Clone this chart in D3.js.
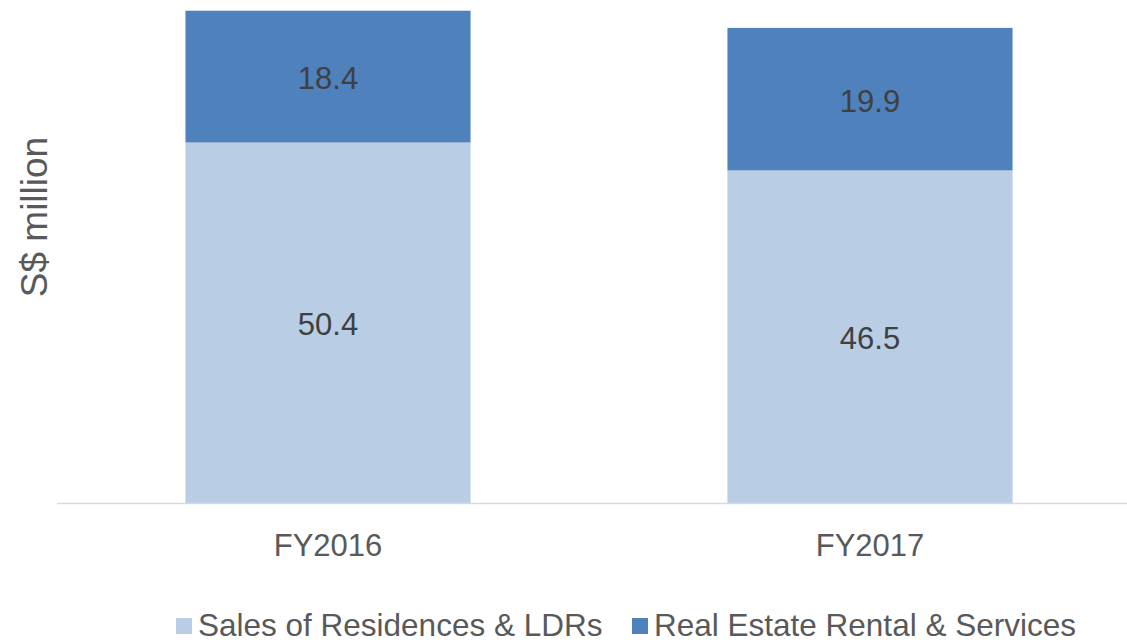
<!DOCTYPE html>
<html>
<head>
<meta charset="utf-8">
<script src="https://cdn.jsdelivr.net/npm/d3@7"></script>
<style>
html,body{margin:0;padding:0;background:#fff;}
svg{display:block;font-family:"Liberation Sans",Arial,sans-serif;}
</style>
</head>
<body>
<svg id="chart" width="1127" height="643"></svg>
<script>
const categories = ["FY2016", "FY2017"];
const seriesNames = ["Sales of Residences & LDRs", "Real Estate Rental & Services"];
const salesValues = [50.4, 46.5];
const rentalValues = [18.4, 19.9];
const colors = ["#b9cde5", "#4f81bd"];

const svg = d3.select("#chart");
const W = 1127, H = 643;

const x = d3.scaleBand().domain(categories).range([57, 1141]).paddingInner(0.474).paddingOuter(0.237);
const y = d3.scaleLinear().domain([0, 70]).range([503.5, 2.1]);

const rows = categories.map((c, i) => ({cat: c, sales: salesValues[i], rental: rentalValues[i]}));
const stack = d3.stack().keys(["sales", "rental"]);
const stacked = stack(rows);

const g = svg.append("g");
stacked.forEach((layer, li) => {
  g.selectAll(null).data(layer).enter().append("rect")
    .attr("x", d => x(d.data.cat))
    .attr("width", x.bandwidth())
    .attr("y", d => y(d[1]))
    .attr("height", d => y(d[0]) - y(d[1]))
    .attr("fill", colors[li]);
  g.selectAll(null).data(layer).enter().append("text")
    .attr("x", d => x(d.data.cat) + x.bandwidth() / 2)
    .attr("y", d => (y(d[0]) + y(d[1])) / 2 + 2)
    .attr("text-anchor", "middle")
    .attr("dominant-baseline", "central")
    .attr("font-size", 31)
    .attr("fill", "#404040")
    .text(d => (d[1] - d[0]).toFixed(1));
});

// baseline axis
const xAxis = d3.axisBottom(x).tickSize(0).tickPadding(30);
const ax = svg.append("g").attr("transform", `translate(0,${y(0)})`).call(xAxis);
ax.select(".domain").attr("d", `M57,0H${W}`).attr("stroke", "#d9d9d9").attr("stroke-width", 1.5);
ax.selectAll("text").attr("font-size", 31).attr("fill", "#595959")
  .attr("font-family", "'Liberation Sans', Arial, sans-serif");

// y title
svg.append("text")
  .attr("transform", "translate(47,217) rotate(-90)")
  .attr("text-anchor", "middle")
  .attr("font-size", 37)
  .attr("fill", "#595959")
  .text("S$ million");

// legend
const legendItems = [
  {name: seriesNames[0], color: colors[0], x: 176},
  {name: seriesNames[1], color: colors[1], x: 632}
];
legendItems.forEach(it => {
  svg.append("rect").attr("x", it.x).attr("y", 618).attr("width", 16).attr("height", 16).attr("fill", it.color);
  svg.append("text").attr("x", it.x + 22).attr("y", 636)
    .attr("font-size", 31.5).attr("fill", "#595959").text(it.name);
});
</script>
</body>
</html>
